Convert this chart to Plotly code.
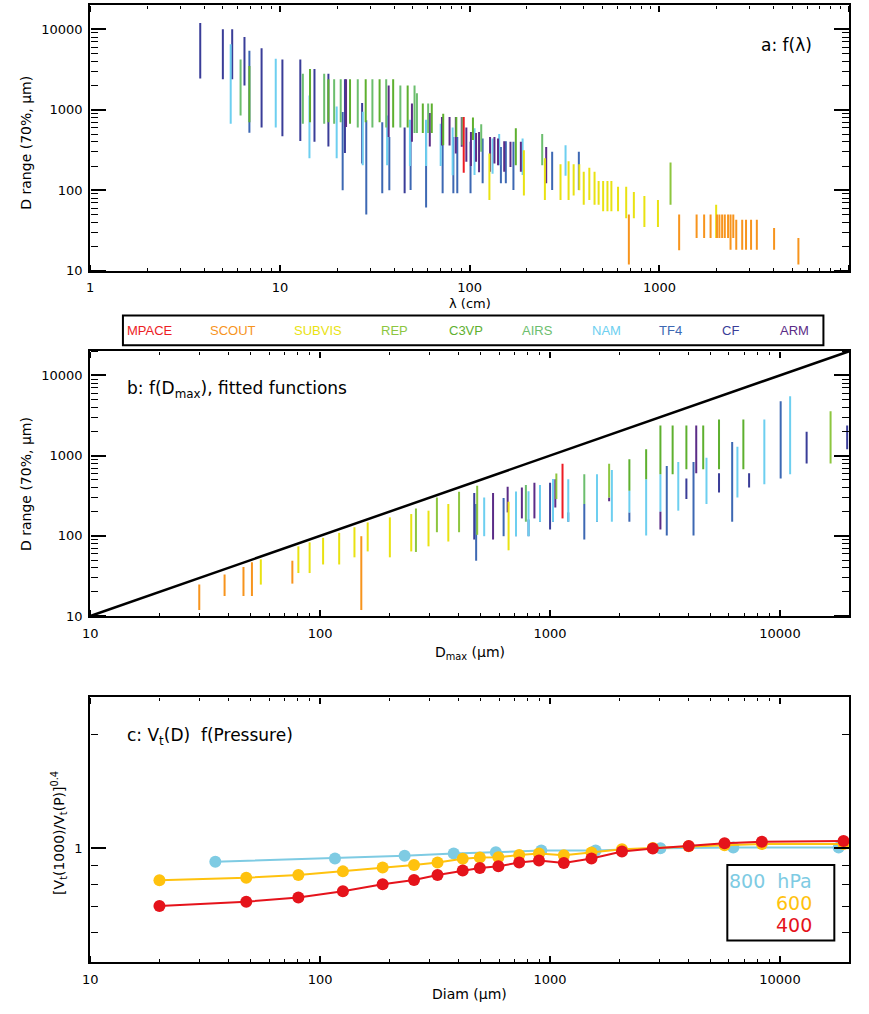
import plotly.graph_objects as go

# ---------------- data ----------------
campaigns = ["MPACE", "SCOUT", "SUBVIS", "REP", "C3VP", "AIRS", "NAM", "TF4", "CF", "ARM"]
camp_colors = {
    "MPACE": "#ED1C24", "SCOUT": "#F7941D", "SUBVIS": "#E9E212", "REP": "#8DC63F",
    "C3VP": "#5EB02F", "AIRS": "#6CBE6E", "NAM": "#6DCFF0", "TF4": "#3D68B3",
    "CF": "#3A3D98", "ARM": "#5B2C87",
}
draw_order = ["CF", "TF4", "NAM", "ARM", "AIRS", "C3VP", "REP", "SUBVIS", "SCOUT", "MPACE"]

# panel a: wavelength (cm), D range low/high (um), campaign
a_lam = [3.8, 5.0, 5.6, 5.5, 6.2, 6.5, 6.9, 6.9, 8.0, 9.5, 10.3, 12.8, 13.2, 14.3, 14.4, 15.2,
         17.1, 18.0, 18.0, 19.3, 19.9, 20.9, 21.4, 22.0, 22.3, 23.4, 25.7, 27.1, 27.3, 28.3, 28.5,
         30.7, 33.5, 34.6, 36.3, 36.7, 37.4, 37.7, 39.5, 43.1, 45.4, 47.1, 48.4, 48.8, 49.6, 51.2,
         52.7, 56.6, 58.9, 58.9, 60.4, 61.6, 63.1, 70.3, 71.4, 72.0, 72.5, 78.3, 81.3, 82.0, 84.5,
         85.0, 86.0, 90.8, 91.5, 93.0, 96.0, 101, 101.5, 104, 106, 108, 112, 115, 117, 127, 128,
         132, 135, 141, 143, 146, 152, 155, 164, 170, 175, 186, 190, 193, 241, 249, 253, 272, 301,
         320, 332, 353, 376, 378, 399, 427, 455, 478, 505, 532, 558, 605, 668, 690, 733, 833, 982,
         1144, 1270, 1570, 1720, 1860, 1990, 2010, 2070, 2140, 2210, 2300, 2370, 2450, 2540, 2730,
         2860, 3040, 3260, 4020, 5400]
a_lo = [2450, 2400, 2400, 670, 850, 2000, 520, 700, 600, 600, 470, 410, 670, 250, 700, 400,
        670, 350, 700, 670, 250, 700, 100, 290, 610, 670, 600, 215, 205, 700, 50,
        600, 700, 92, 600, 205, 460, 100, 600, 600, 92, 600, 200, 101, 400, 515,
        515, 515, 61, 200, 515, 350, 515, 200, 360, 92, 362, 360, 154, 92, 286,
        460, 92, 347, 363, 165, 226, 92, 200, 420, 155, 226, 167, 300, 122, 76, 170,
        160, 215, 205, 205, 122, 170, 122, 195, 101, 205, 170, 155, 86, 205, 76, 122, 101, 76,
        152, 76, 86, 101, 100, 66, 76, 66, 66, 55, 55, 55, 55, 45, 12, 45, 35, 35,
        66, 18, 25.5, 25.5, 25.5, 25.5, 25.5, 25.5, 25.5, 25.5, 25.5, 18.3, 25.5, 18.3, 18.3,
        18.3, 18.3, 18.3, 18.3, 12]
a_hi = [11900, 10000, 10000, 6500, 4200, 8000, 5400, 3500, 5800, 4300, 4200, 4200, 2800, 1500, 3200, 3200,
        2800, 2800, 2400, 2400, 1100, 2400, 940, 2400, 2400, 2400, 2400, 1210, 944, 2400, 740,
        2400, 2400, 700, 2400, 850, 2000, 460, 2400, 2000, 600, 2000, 750, 740, 1200, 2000,
        1600, 1200, 740, 750, 1200, 910, 1200, 670, 810, 460, 890, 810, 600, 460, 813,
        810, 460, 810, 810, 810, 600, 400, 530, 800, 590, 515, 530, 660, 440, 286, 460,
        440, 460, 440, 500, 345, 405, 405, 400, 400, 590, 400, 440, 315, 500, 250, 345, 300, 210,
        362, 230, 210, 300, 210, 170, 190, 170, 130, 130, 130, 130, 111, 111, 50, 95, 85, 76,
        222, 50, 50, 50, 50, 66, 50, 50, 50, 50, 50, 50, 50, 43, 43,
        43, 43, 43, 34, 25.5]
a_camp = ["CF", "CF", "CF", "NAM", "AIRS", "CF", "TF4", "C3VP", "CF", "NAM", "CF", "CF", "AIRS", "NAM", "C3VP", "CF",
          "AIRS", "CF", "C3VP", "AIRS", "NAM", "AIRS", "TF4", "CF", "ARM", "C3VP", "AIRS", "CF", "NAM", "C3VP", "TF4",
          "AIRS", "C3VP", "TF4", "AIRS", "NAM", "ARM", "TF4", "C3VP", "AIRS", "CF", "C3VP", "NAM", "TF4", "ARM", "AIRS",
          "AIRS", "C3VP", "TF4", "NAM", "AIRS", "ARM", "C3VP", "NAM", "ARM", "TF4", "C3VP", "ARM", "NAM", "TF4", "ARM",
          "C3VP", "TF4", "ARM", "AIRS", "MPACE", "ARM", "TF4", "ARM", "C3VP", "NAM", "ARM", "ARM", "AIRS", "TF4", "SUBVIS", "ARM",
          "NAM", "ARM", "ARM", "NAM", "TF4", "ARM", "TF4", "ARM", "TF4", "C3VP", "ARM", "NAM", "SUBVIS", "AIRS", "SUBVIS", "ARM", "TF4", "SUBVIS",
          "NAM", "SUBVIS", "SUBVIS", "TF4", "SUBVIS", "SUBVIS", "SUBVIS", "SUBVIS", "SUBVIS", "SUBVIS", "SUBVIS", "SUBVIS", "SUBVIS", "SUBVIS", "SCOUT", "SUBVIS", "SUBVIS", "SUBVIS",
          "REP", "SCOUT", "SCOUT", "SCOUT", "SCOUT", "SUBVIS", "SCOUT", "SCOUT", "SCOUT", "SCOUT", "SCOUT", "SCOUT", "SCOUT", "SCOUT", "SCOUT",
          "SCOUT", "SCOUT", "SCOUT", "SCOUT", "SCOUT"]

# panel b: Dmax (um), D range low/high (um), campaign
b_dmax = [29.8, 38.4, 46.4, 50.5, 55.2, 75.7, 80.4, 90, 103, 121, 141, 151, 161, 201, 249, 261, 296, 322,
          361, 402, 468, 477, 482, 517, 565, 628, 654, 660, 711, 711, 754, 785, 806, 806, 855, 904, 904,
          1000, 1030, 1030, 1054, 1065, 1133, 1200, 1200, 1409, 1409, 1600, 1600, 1807, 1807, 1857,
          2213, 2213, 2213, 2618, 2618, 3020, 3020, 3020, 3218, 3413, 3611, 3917, 3917, 4207, 4323,
          4636, 4790, 5431, 5431, 6196, 6530, 6930, 7340, 8550, 10070, 11070, 13060, 16600, 19600]
b_lo = [11.9, 17.8, 17.8, 17.8, 24.7, 25.4, 34.4, 34.4, 44, 44, 54, 11.9, 64, 54, 64, 63, 74, 111,
        85, 111, 90, 49, 103, 99, 90, 99, 196, 66, 99, 99, 165, 150, 99, 99, 165, 150, 150,
        120, 150, 150, 226, 288, 165, 150, 150, 90, 250, 150, 150, 270, 300, 150,
        150, 196, 364, 101, 508, 120, 200, 586, 101, 586, 206, 288, 676, 101, 604,
        676, 249, 347, 676, 150, 301, 676, 400, 440, 517, 586, 800, 800, 1200]
b_hi = [24.7, 32.9, 40.8, 47, 51, 49, 74, 83, 94.5, 109, 128, 99, 147, 170, 187, 220, 206, 300,
        250, 354, 341, 250, 420, 300, 341, 296, 408, 266, 357, 150, 400, 430, 360, 160, 460, 430, 196,
        460, 510, 196, 508, 600, 794, 508, 196, 250, 586, 586, 196, 300, 794, 660,
        196, 364, 900, 508, 1200, 200, 586, 2370, 743, 2370, 834, 517, 2370, 834, 2370,
        2370, 942, 604, 2818, 1475, 1290, 2818, 604, 2818, 4750, 5480, 1980, 3570, 2370]
b_camp = ["SCOUT", "SCOUT", "SCOUT", "SCOUT", "SUBVIS", "SCOUT", "SUBVIS", "SUBVIS", "SUBVIS", "SUBVIS", "SUBVIS", "SCOUT", "SUBVIS", "SUBVIS", "SUBVIS", "REP", "SUBVIS", "REP",
          "SUBVIS", "REP", "CF", "TF4", "REP", "NAM", "ARM", "TF4", "ARM", "SUBVIS", "NAM", "TF4", "ARM", "AIRS", "NAM", "TF4", "ARM", "NAM", "TF4",
          "CF", "NAM", "TF4", "ARM", "REP", "MPACE", "NAM", "TF4", "TF4", "AIRS", "NAM", "TF4", "ARM", "REP", "NAM",
          "TF4", "NAM", "C3VP", "NAM", "C3VP", "ARM", "NAM", "C3VP", "TF4", "C3VP", "NAM", "CF", "C3VP", "TF4", "ARM",
          "C3VP", "NAM", "CF", "C3VP", "TF4", "NAM", "C3VP", "CF", "NAM", "TF4", "NAM", "CF", "REP", "CF"]

# panel b reference line (1:1)
b_line_x = [10, 20000]
b_line_y = [10, 20000]

# panel c: pressure ratio curves
c800_d = [35, 116, 233, 381, 581, 916, 1578, 3020, 6265, 18000]
c800_v = [0.921, 0.940, 0.955, 0.968, 0.976, 0.986, 0.986, 1.000, 1.004, 1.004]
c600_d = [20, 47.7, 80.4, 125.6, 187, 256, 324, 417, 495, 596, 734, 895, 1148, 1514, 2055, 2798,
          4009, 5740, 8340, 18900]
c600_v = [0.823, 0.836, 0.850, 0.869, 0.890, 0.903, 0.917, 0.938, 0.945, 0.947, 0.960, 0.968,
          0.959, 0.974, 0.994, 1.002, 1.012, 1.018, 1.026, 1.026]
c400_d = c600_d
c400_v = [0.704, 0.723, 0.741, 0.770, 0.804, 0.825, 0.850, 0.874, 0.887, 0.896, 0.917, 0.929,
          0.914, 0.940, 0.980, 0.998, 1.014, 1.031, 1.041, 1.045]
c_colors = {"800": "#7ECBE3", "600": "#FFC20E", "400": "#E5131B"}

# axis ticks
a_x_major = [1, 10, 100, 1000, 10000]
bc_x_major = [10, 100, 1000, 10000]
ab_y_major = [10, 100, 1000, 10000]
c_y_major = [1]
c_y_minor = [0.6, 0.7, 0.8, 0.9, 2]

# ---------------- figure ----------------
W, H = 869, 1014
fig = go.Figure()


def add_bars(xs, los, his, camps, xa, ya):
    for c in draw_order:
        X, Y = [], []
        for x, lo, hi, cc in zip(xs, los, his, camps):
            if cc == c:
                X += [x, x, None]
                Y += [lo, hi, None]
        if X:
            fig.add_trace(go.Scatter(x=X, y=Y, mode="lines", xaxis=xa, yaxis=ya,
                                     line=dict(color=camp_colors[c], width=2),
                                     showlegend=False, hoverinfo="skip"))


add_bars(a_lam, a_lo, a_hi, a_camp, "x", "y")
fig.add_trace(go.Scatter(x=b_line_x, y=b_line_y, mode="lines", xaxis="x2", yaxis="y2",
                         line=dict(color="black", width=2.5), showlegend=False))
add_bars(b_dmax, b_lo, b_hi, b_camp, "x2", "y2")

for key, xd, yv in [("800", c800_d, c800_v), ("600", c600_d, c600_v), ("400", c400_d, c400_v)]:
    fig.add_trace(go.Scatter(x=xd, y=yv, mode="lines+markers", xaxis="x3", yaxis="y3",
                             line=dict(color=c_colors[key], width=2),
                             marker=dict(color=c_colors[key], size=12, line=dict(width=0)),
                             showlegend=False))


def minor_vals(lo_exp, hi_exp):
    return [m * 10 ** k for k in range(lo_exp, hi_exp + 1) for m in range(2, 10)]


def px2paper_x(px):
    return px / W


def py2paper_y(py):
    return 1 - py / H


tickfont = dict(family="DejaVu Sans", size=13, color="black")
X0, X1 = 83, 849
xdom = [X0 / W, X1 / W]


def main_axis(rng, dom, anchor, tv, standoff):
    return dict(type="log", range=rng, domain=dom, anchor=anchor, showline=True,
                linecolor="black", linewidth=2, mirror=True, ticks="", showgrid=False,
                zeroline=False, tickfont=tickfont, tickmode="array", tickvals=tv,
                ticktext=[str(v) for v in tv], ticklabelstandoff=standoff, layer="above traces")


def tick_axis(rng, dom, base, side, position, tv, ticklen, tickwidth):
    # an overlay axis whose "outside" ticks point into the plot area
    return dict(type="log", range=rng, domain=dom, overlaying=base, anchor="free",
                position=position, side=side, showline=False, ticks="outside",
                ticklen=ticklen, tickwidth=tickwidth, tickcolor="black", tickmode="array",
                tickvals=tv, showticklabels=False, showgrid=False, zeroline=False,
                layer="above traces")


panels = [
    # (xrange, yrange, top px, bottom px, x major, x minor, y major, y minor)
    ([0, 4], [1, 4.30103], 5, 273, a_x_major, minor_vals(0, 3), ab_y_major, minor_vals(1, 4)),
    ([1, 4.30103], [1, 4.30103], 354, 621, bc_x_major, minor_vals(1, 4), ab_y_major, minor_vals(1, 4)),
    ([1, 4.30103], [-0.30103, 0.39794], 703, 970, bc_x_major, minor_vals(1, 4), c_y_major, c_y_minor),
]

layout_axes = {}
n_next = 4
for i, (xr, yr, top, bot, xM, xm, yM, ym) in enumerate(panels, start=1):
    sfx = "" if i == 1 else str(i)
    ydom = [py2paper_y(bot), py2paper_y(top)]
    layout_axes["xaxis" + sfx] = main_axis(xr, xdom, "y" + sfx, xM, 4)
    layout_axes["yaxis" + sfx] = main_axis(yr, ydom, "x" + sfx, yM, 3)
    xbase, ybase = "x" + sfx, "y" + sfx
    specs = [
        ("x", "top", py2paper_y(bot), xM, 6, 1.5),
        ("x", "top", py2paper_y(bot), xm, 3, 1),
        ("x", "bottom", py2paper_y(top), xM, 6, 1.5),
        ("x", "bottom", py2paper_y(top), xm, 3, 1),
        ("y", "right", px2paper_x(X0), yM, 15, 1.5),
        ("y", "right", px2paper_x(X0), ym, 7, 1),
        ("y", "left", px2paper_x(X1), yM, 15, 1.5),
        ("y", "left", px2paper_x(X1), ym, 7, 1),
    ]
    for letter, side, pos, tv, tl, tw in specs:
        n = n_next
        n_next += 1
        if letter == "x":
            layout_axes[f"xaxis{n}"] = tick_axis(xr, xdom, xbase, side, pos, tv, tl, tw)
            layout_axes[f"yaxis{n}"] = dict(overlaying=ybase, domain=ydom, range=yr, type="log",
                                            visible=False, anchor=f"x{n}")
        else:
            layout_axes[f"yaxis{n}"] = tick_axis(yr, ydom, ybase, side, pos, tv, tl, tw)
            layout_axes[f"xaxis{n}"] = dict(overlaying=xbase, domain=xdom, range=xr, type="log",
                                            visible=False, anchor=f"y{n}")
        fig.add_trace(go.Scatter(x=[], y=[], xaxis=f"x{n}", yaxis=f"y{n}", showlegend=False,
                                 hoverinfo="skip"))

fig.update_layout(width=W, height=H, margin=dict(l=0, r=0, t=0, b=0),
                  paper_bgcolor="white", plot_bgcolor="white",
                  font=dict(family="DejaVu Sans", color="black"), **layout_axes)

ann = []


def text(px, py, s, size=14, color="black", xanchor="center", angle=0, family="DejaVu Sans"):
    ann.append(dict(x=px2paper_x(px), y=py2paper_y(py), xref="paper", yref="paper", text=s,
                    showarrow=False, xanchor=xanchor, yanchor="middle", textangle=angle,
                    font=dict(family=family, size=size, color=color)))


# axis titles
text(466, 306, "λ (cm)", 13)
text(18, 144, "D range (70%, μm)", 14, angle=-90)
text(18, 488, "D range (70%, μm)", 14, angle=-90)
text(466, 658, "D<sub>max</sub> (μm)", 14)
text(52, 840, "[V<sub>t</sub>(1000)/V<sub>t</sub>(P)]<sup>0.4</sup>", 14, angle=-90)
text(466, 1002, "Diam (μm)", 14)

# panel labels
text(813, 45, "a: f(λ)", 17, xanchor="right")
text(118, 393, "b: f(D<sub>max</sub>), fitted functions", 17, xanchor="left")
text(118, 742, "c: V<sub>t</sub>(D)  f(Pressure)", 17, xanchor="left")

# campaign legend
leg_x = [143, 227, 313, 390, 462, 534, 604, 669, 729, 794]
for c, lx in zip(campaigns, leg_x):
    text(lx, 333, c, 13, color=camp_colors[c], family="Liberation Sans")

# pressure legend
text(813, 888, "800  hPa", 19, color=c_colors["800"], xanchor="right")
text(813, 910, "600", 19, color=c_colors["600"], xanchor="right")
text(813, 932, "400", 19, color=c_colors["400"], xanchor="right")

fig.update_layout(annotations=ann)

fig.update_layout(shapes=[
    dict(type="rect", xref="paper", yref="paper", x0=px2paper_x(116), x1=px2paper_x(823),
         y0=py2paper_y(348), y1=py2paper_y(318), line=dict(color="black", width=2)),
    dict(type="rect", xref="paper", yref="paper", x0=px2paper_x(726), x1=px2paper_x(834),
         y0=py2paper_y(948), y1=py2paper_y(872), line=dict(color="black", width=2)),
])

fig.write_html("out.html")
